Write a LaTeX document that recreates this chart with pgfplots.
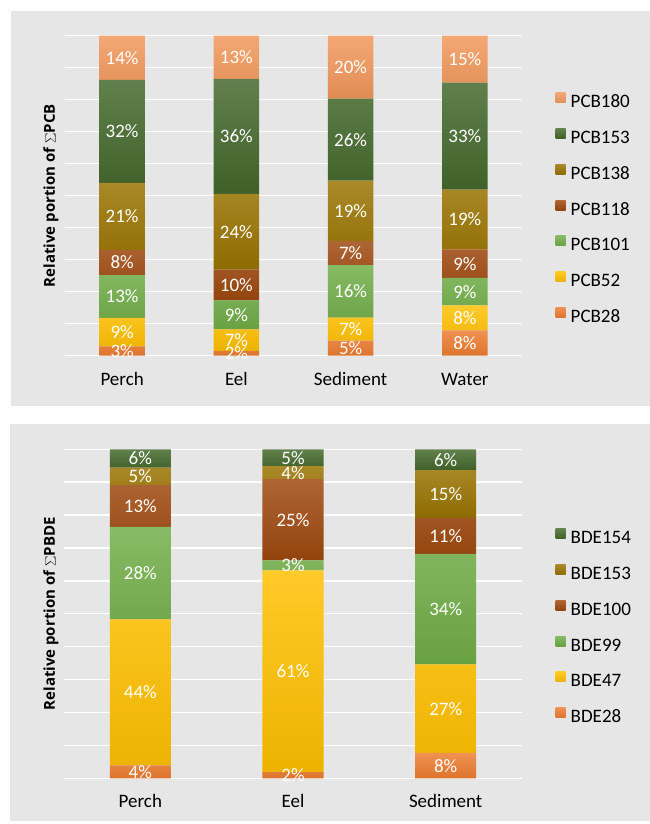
\documentclass[border=0pt]{standalone}
\usepackage{pgfplots}
\pgfplotsset{compat=1.18}
\usepackage{fontspec}
\setmainfont{Carlito}
\newfontfamily\ylabfont{Open Sans}
\definecolor{bg}{HTML}{E7E6E6}
\definecolor{cA}{HTML}{ED7D31}
\definecolor{cB}{HTML}{FFC000}
\definecolor{cC}{HTML}{70AD47}
\definecolor{cD}{HTML}{9E480E}
\definecolor{cE}{HTML}{997300}
\definecolor{cF}{HTML}{43682B}
\definecolor{cG}{HTML}{F1975A}
\newcommand\lblfont{\fontsize{19}{22}\selectfont}
\newcommand\bigsum{{\fontsize{19}{20}\selectfont$\sum$}}
\pgfplotsset{
  grad/.style={top color=#1!84!white, middle color=#1, bottom color=#1!93!black, draw=none},
  common/.style={
    anchor=south west, scale only axis, ymin=0, ymax=100,
  },
  barsaxis/.style={
    common,
    ybar stacked, bar width=0.4,
    xtick=data,
    ytick={0,10,...,100}, yticklabels={},
    ymajorgrids, grid style={white, line width=1.4pt},
    axis line style={draw=none}, major tick length=0pt,
    xticklabel style={font=\lblfont, anchor=base, text=black},
    every axis y label/.style={rotate=90, anchor=base, font=\ylabfont\bfseries\fontsize{15}{17}\selectfont},
    legend style={anchor=north west, draw=none, fill=none, inner sep=0pt, outer sep=0pt,
      row sep=16.7pt, column sep=5pt, font=\lblfont,
      nodes={inner sep=0pt, text height=13pt, text depth=4pt}},
    legend cell align=left, reverse legend,
    legend image code/.code={\path[##1] (0pt,0.5pt) rectangle (10pt,10.5pt);},
  },
  labaxis/.style={
    common, hide axis, clip=false,
  },
  labplot/.style={draw=none, mark=none, point meta=explicit symbolic,
    nodes near coords={\pgfplotspointmeta\%},
    nodes near coords align={center},
    every node near coord/.append style={anchor=center, text=white, font=\lblfont}},
}
\begin{document}
\begin{tikzpicture}
\fill[white] (0pt,0pt) rectangle (650pt,824pt);
\fill[bg] (11pt,418pt) rectangle (650pt,813pt);
\fill[bg] (10pt,3pt) rectangle (650pt,400pt);
% ---------------- Panel 1: PCB ----------------
\begin{axis}[barsaxis, at={(65pt,468.3pt)}, width=457pt, height=320pt,
  xmin=-0.5, xmax=3.5, xticklabels={Perch,Eel,Sediment,Water},
  xticklabel style={yshift=-30.3pt},
  ylabel={Relative portion of \bigsum PCB},
  every axis y label/.append style={at={(axis description cs:-0.0219,0.5)}},
  legend style={at={(axis description cs:1.0737,0.821)}},
]
\addplot[grad=cA] coordinates {(0,2.9) (1,1.5) (2,4.7) (3,7.9)};
\addplot[grad=cB] coordinates {(0,8.9) (1,6.7) (2,7.2) (3,7.8)};
\addplot[grad=cC] coordinates {(0,13.4) (1,9.1) (2,16.4) (3,8.6)};
\addplot[grad=cD] coordinates {(0,7.8) (1,9.6) (2,7.5) (3,8.9)};
\addplot[grad=cE] coordinates {(0,21.0) (1,23.7) (2,18.9) (3,18.7)};
\addplot[grad=cF] coordinates {(0,32.2) (1,35.9) (2,25.6) (3,33.4)};
\addplot[grad=cG] coordinates {(0,13.8) (1,13.5) (2,19.7) (3,14.7)};
\legend{PCB28,PCB52,PCB101,PCB118,PCB138,PCB153,PCB180}
\end{axis}
\begin{axis}[labaxis, at={(65pt,468.3pt)}, width=457pt, height=320pt, xmin=-0.5, xmax=3.5]
\addplot[labplot] table[meta=l] {
x y l
0 1.45 3
0 7.35 9
0 18.5 13
0 29.1 8
0 43.5 21
0 70.1 32
0 93.1 14
1 0.75 2
1 4.85 7
1 12.75 9
1 22.1 10
1 38.75 24
1 68.55 36
1 93.25 13
2 2.35 5
2 8.3 7
2 20.1 16
2 32.05 7
2 45.25 19
2 67.5 26
2 90.15 20
3 3.95 8
3 11.8 8
3 20.0 9
3 28.75 9
3 42.55 19
3 68.6 33
3 92.65 15
};
\end{axis}
% ---------------- Panel 2: PBDE ----------------
\begin{axis}[barsaxis, at={(64pt,45.7pt)}, width=458pt, height=329pt,
  xmin=-0.5, xmax=2.5, xticklabels={Perch,Eel,Sediment},
  xticklabel style={yshift=-29.7pt},
  ylabel={Relative portion of \bigsum PBDE},
  every axis y label/.append style={at={(axis description cs:-0.0197,0.5)}},
  legend style={at={(axis description cs:1.0736,0.7578)}},
]
\addplot[grad=cA] coordinates {(0,3.9) (1,1.9) (2,7.7)};
\addplot[grad=cB] coordinates {(0,44.4) (1,61.3) (2,26.9)};
\addplot[grad=cC] coordinates {(0,28.1) (1,3.0) (2,33.6)};
\addplot[grad=cD] coordinates {(0,12.7) (1,24.7) (2,10.9)};
\addplot[grad=cE] coordinates {(0,5.3) (1,4.0) (2,14.6)};
\addplot[grad=cF] coordinates {(0,5.6) (1,5.1) (2,6.3)};
\legend{BDE28,BDE47,BDE99,BDE100,BDE153,BDE154}
\end{axis}
\begin{axis}[labaxis, at={(64pt,45.7pt)}, width=458pt, height=329pt, xmin=-0.5, xmax=2.5]
\addplot[labplot] table[meta=l] {
x y l
0 1.95 4
0 26.1 44
0 62.35 28
0 82.75 13
0 91.75 5
0 97.2 6
1 0.95 2
1 32.55 61
1 64.7 3
1 78.55 25
1 92.9 4
1 97.45 5
2 3.85 8
2 21.15 27
2 51.4 34
2 73.65 11
2 86.4 15
2 96.85 6
};
\end{axis}
\end{tikzpicture}
\end{document}
